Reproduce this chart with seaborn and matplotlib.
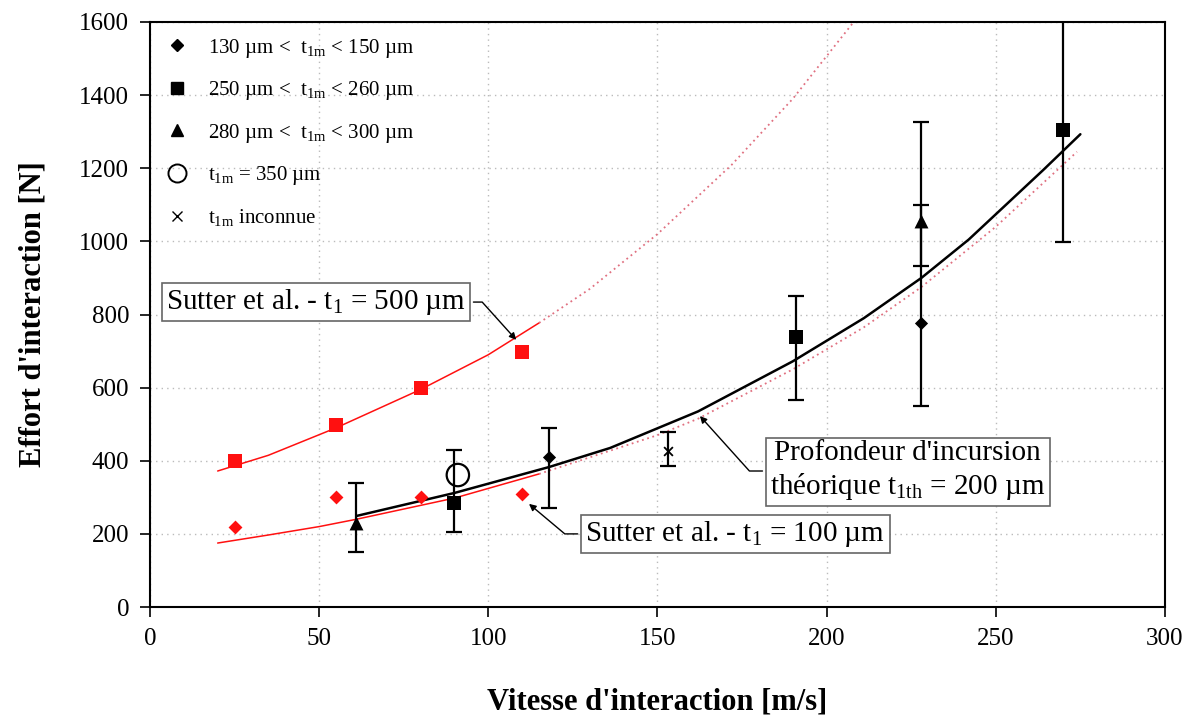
import numpy as np
import matplotlib
matplotlib.use("Agg")
import matplotlib.pyplot as plt
import seaborn as sns
from matplotlib.lines import Line2D

# Sutter et al. model curves
s500_x = [20, 35, 55, 80, 100, 115]
s500_y = [372, 415, 490, 595, 690, 777]
s500_ext_x = [115, 130, 150, 172, 190, 208]
s500_ext_y = [777, 870, 1020, 1210, 1390, 1600]

s100_x = [20, 35, 50, 61, 90, 115]
s100_y = [175, 197, 220, 240, 298, 364]
s100_ext_x = [115, 150, 162, 190, 211, 228, 250, 274]
s100_ext_y = [364, 470, 515, 650, 765, 875, 1040, 1245]

# theoretical curve t1th = 200 um
th_x = [61, 90, 118, 136, 162, 190, 211, 228, 242, 264, 275]
th_y = [249, 312, 383, 435, 535, 672, 790, 900, 1005, 1195, 1293]

# Sutter points
red_sq_x = [25, 55, 80, 110]
red_sq_y = [399, 498, 599, 697]
red_di_x = [25, 55, 80, 110]
red_di_y = [219, 300, 300, 309]

# measurements (value, low, high)
diam_x = [118, 228]
diam_y = [410, 777]
diam_lo = [270, 550]
diam_hi = [490, 1100]

sq_x = [90, 191, 270]
sq_y = [284, 738, 1305]
sq_lo = [205, 565, 998]
sq_hi = [429, 850, 1700]

tri_x = [61, 228]
tri_y = [230, 1055]
tri_lo = [150, 933]
tri_hi = [339, 1327]

circ_x = [91]
circ_y = [361]

unk_x = [153]
unk_y = [428]
unk_lo = [385]
unk_hi = [478]

legend_labels = [
    r"130 µm <  t$_\mathregular{1m}$ < 150 µm",
    r"250 µm <  t$_\mathregular{1m}$ < 260 µm",
    r"280 µm <  t$_\mathregular{1m}$ < 300 µm",
    r"t$_\mathregular{1m}$ = 350 µm",
    r"t$_\mathregular{1m}$ inconnue",
]

sns.set_theme(style="white")
plt.rcParams['font.family'] = ['Liberation Serif', 'DejaVu Serif']
plt.rcParams['mathtext.fontset'] = 'custom'
plt.rcParams['mathtext.rm'] = 'Liberation Serif'
plt.rcParams['mathtext.it'] = 'Liberation Serif:italic'
plt.rcParams['text.color'] = 'black'
plt.rcParams['axes.labelcolor'] = 'black'

fig = plt.figure(figsize=(11.99, 7.23), dpi=100)
ax = fig.add_axes([0.1251, 0.1604, 0.8465, 0.8092])

red = "#ff1010"
pink = "#e07080"

sns.lineplot(x=s500_x, y=s500_y, ax=ax, color=red, lw=1.1, sort=False, estimator=None)
sns.lineplot(x=s100_x, y=s100_y, ax=ax, color=red, lw=1.1, sort=False, estimator=None)
sns.lineplot(x=s500_ext_x, y=s500_ext_y, ax=ax, color=pink, lw=1.3, ls=(0, (1, 2)), sort=False, estimator=None)
sns.lineplot(x=s100_ext_x, y=s100_ext_y, ax=ax, color=pink, lw=1.3, ls=(0, (1, 2)), sort=False, estimator=None)
sns.lineplot(x=th_x, y=th_y, ax=ax, color="black", lw=1.8, sort=False, estimator=None)

sns.scatterplot(x=red_sq_x, y=red_sq_y, ax=ax, marker="s", color=red, s=110, linewidth=0, zorder=5)
sns.scatterplot(x=red_di_x, y=red_di_y, ax=ax, marker="D", color=red, s=50, linewidth=0, zorder=5)


def with_err(xs, ys, lo, hi):
    yerr = [np.array(ys) - np.array(lo), np.array(hi) - np.array(ys)]
    ax.errorbar(xs, ys, yerr=yerr, fmt="none", ecolor="black", elinewidth=1.6,
                capsize=6, capthick=1.6, zorder=4)


with_err(diam_x, diam_y, diam_lo, diam_hi)
with_err(sq_x, sq_y, sq_lo, sq_hi)
with_err(tri_x, tri_y, tri_lo, tri_hi)
with_err(unk_x, unk_y, unk_lo, unk_hi)

sns.scatterplot(x=diam_x, y=diam_y, ax=ax, marker="D", color="black", s=45, linewidth=0, zorder=6)
sns.scatterplot(x=sq_x, y=sq_y, ax=ax, marker="s", color="black", s=100, linewidth=0, zorder=6)
sns.scatterplot(x=tri_x, y=tri_y, ax=ax, marker="^", color="black", s=100, linewidth=0, zorder=6)
sns.scatterplot(x=circ_x, y=circ_y, ax=ax, marker="o", facecolor="none", edgecolor="black",
                s=260, linewidth=1.6, zorder=6)
sns.scatterplot(x=unk_x, y=unk_y, ax=ax, marker="x", color="black", s=40, linewidth=1.3, zorder=6)

ax.set_xlim(0, 300)
ax.set_ylim(0, 1600)
ax.set_xticks(range(0, 301, 50))
ax.set_yticks(range(0, 1601, 200))
ax.grid(True, ls=(0, (1, 3)), color="#bbbbbb", lw=1.0)
for sp in ax.spines.values():
    sp.set_color("black")
    sp.set_linewidth(1.5)
ax.tick_params(axis="both", which="major", direction="out", length=7, width=1.2,
               labelsize=18, colors="black", bottom=True, left=True, pad=8)
ax.set_xlabel("Vitesse d'interaction [m/s]", fontsize=22, fontweight="bold", labelpad=27)
ax.set_ylabel("Effort d'interaction [N]", fontsize=22, fontweight="bold", labelpad=23)

handles = [
    Line2D([], [], ls="none", marker="D", color="black", markersize=6),
    Line2D([], [], ls="none", marker="s", color="black", markersize=8),
    Line2D([], [], ls="none", marker="^", color="black", markersize=8),
    Line2D([], [], ls="none", marker="o", markerfacecolor="none", markeredgecolor="black",
           markersize=13, markeredgewidth=1.4),
    Line2D([], [], ls="none", marker="x", color="black", markersize=7),
]
ax.legend(handles, legend_labels, loc="upper left", bbox_to_anchor=(0.0, 1.0), frameon=False,
          fontsize=15, labelspacing=0.94, handletextpad=0.9, handlelength=1.2, borderaxespad=0.3)

box = dict(boxstyle="square,pad=0.15", fc="white", ec="#666666", lw=1.2)
arrow = dict(arrowstyle="-|>", color="black", lw=1.0, mutation_scale=10)

ax.annotate(r"Sutter et al. - t$_\mathregular{1}$ = 500 µm", xy=(108.8, 725), xytext=(49, 834),
            ha="center", va="center", fontsize=21, bbox=box,
            arrowprops=dict(arrow, connectionstyle="angle,angleA=0,angleB=132"), zorder=7)
ax.annotate(r"Sutter et al. - t$_\mathregular{1}$ = 100 µm", xy=(111.4, 287), xytext=(173, 200),
            ha="center", va="center", fontsize=21, bbox=box,
            arrowprops=dict(arrow, connectionstyle="angle,angleA=0,angleB=140"), zorder=7)
ax.annotate("Profondeur d'incursion\n" + r"théorique t$_\mathregular{1th}$ = 200 µm",
            xy=(162, 528), xytext=(224, 372), ha="center", va="center", fontsize=21,
            bbox=box, linespacing=1.2,
            arrowprops=dict(arrow, connectionstyle="angle,angleA=0,angleB=132"), zorder=7)

fig.savefig("out.png", dpi=100)
